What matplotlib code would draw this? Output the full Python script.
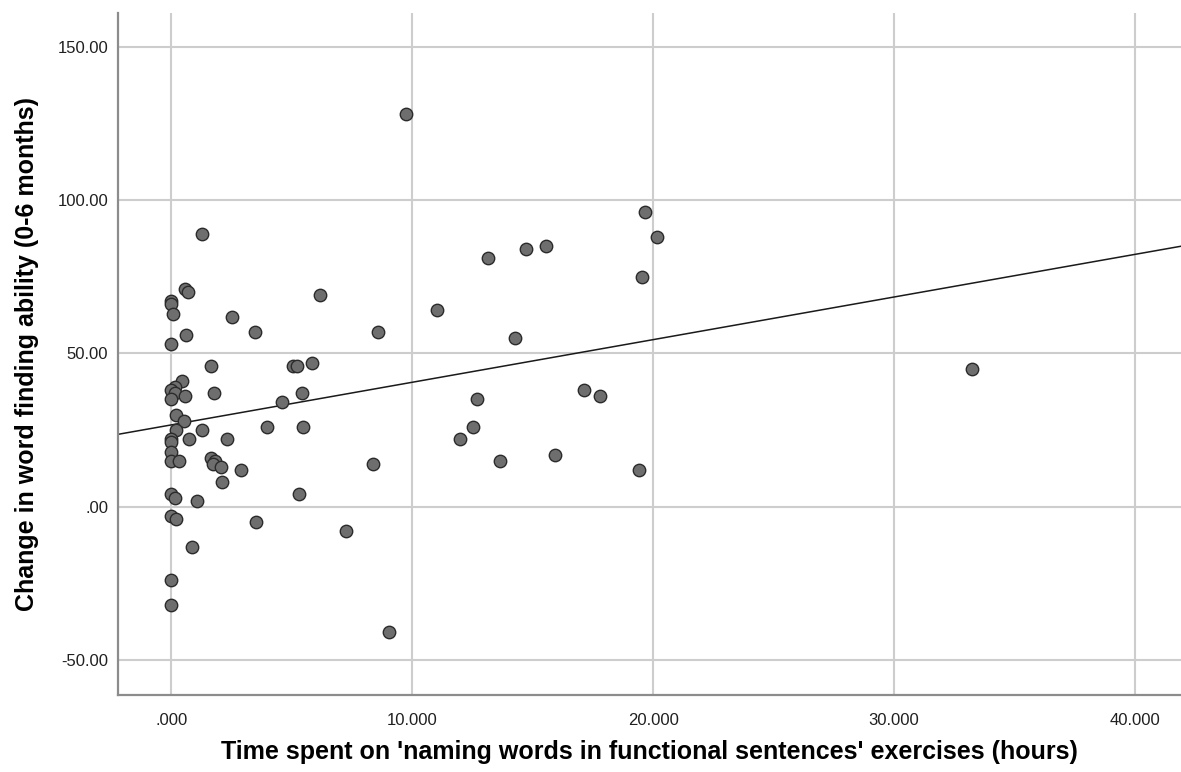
import numpy as np
import matplotlib
matplotlib.use("Agg")
import matplotlib.pyplot as plt

plt.rcParams['font.family'] = ['Liberation Sans', 'DejaVu Sans']

# Hours spent on the exercises and change in word-finding score (0-6 months)
hours = [9.74, 19.67, 20.17, 1.28, 15.54, 14.74, 13.15, 19.54, 0.55, 0.70,
         6.17, 0.00, 0.00, 11.01, 0.05, 2.50, 3.46, 8.58, 0.60, 14.28,
         0.00, 5.82, 1.63, 5.05, 5.22, 33.26, 0.45, 0.15, 0.00, 0.15,
         1.76, 5.43, 17.15, 17.81, 0.55, 0.00, 12.69, 4.60, 0.17, 0.52,
         0.19, 1.28, 3.98, 5.46, 12.51, 0.00, 0.00, 0.73, 2.30, 11.97,
         0.00, 0.00, 0.32, 1.63, 1.80, 1.74, 2.07, 2.87, 8.36, 13.63,
         15.94, 19.43, 2.11, 0.00, 0.13, 1.05, 5.30, 0.00, 0.20, 3.52,
         0.86, 7.25, 9.03, 0.00, 0.00]
change = [128, 96, 88, 89, 85, 84, 81, 75, 71, 70,
          69, 67, 66, 64, 63, 62, 57, 57, 56, 55,
          53, 47, 46, 46, 46, 45, 41, 39, 38, 37,
          37, 37, 38, 36, 36, 35, 35, 34, 30, 28,
          25, 25, 26, 26, 26, 22, 21, 22, 22, 22,
          18, 15, 15, 16, 15, 14, 13, 12, 14, 15,
          17, 12, 8, 4, 3, 2, 4, -3, -4, -5,
          -13, -8, -41, -24, -32]

x_ticks = [0, 10, 20, 30, 40]
x_tick_labels = ['.000', '10.000', '20.000', '30.000', '40.000']
y_ticks = [-50, 0, 50, 100, 150]
y_tick_labels = ['-50.00', '.00', '50.00', '100.00', '150.00']

x_label = "Time spent on 'naming words in functional sentences' exercises (hours)"
y_label = "Change in word finding ability (0-6 months)"

fig = plt.figure(figsize=(11.81, 7.72), dpi=100)
ax = fig.add_axes([118 / 1181, 1 - 695 / 772, (1181 - 118) / 1181, (695 - 13.3) / 772])

x_lo, x_hi = -2.22, 41.92
ax.set_xlim(x_lo, x_hi)
ax.set_ylim(-61.4, 160.9)

ax.grid(True, color='#cdcdcd', linewidth=1.5, zorder=0)
ax.set_axisbelow(True)

ax.scatter(hours, change, s=80, facecolor='#6e6e6e', edgecolor='#2b2b2b',
           linewidth=1.0, zorder=3)

# Least-squares fit line across the whole x range
slope, intercept = np.polyfit(hours, change, 1)
xs = np.array([x_lo, x_hi])
ax.plot(xs, intercept + slope * xs, color='#1a1a1a', linewidth=1.1, zorder=2)

ax.set_xticks(x_ticks)
ax.set_xticklabels(x_tick_labels)
ax.set_yticks(y_ticks)
ax.set_yticklabels(y_tick_labels)
ax.tick_params(axis='both', length=0, labelsize=12, labelcolor='#202020')
ax.tick_params(axis='x', pad=13)
ax.tick_params(axis='y', pad=7)

for side in ('top', 'right'):
    ax.spines[side].set_visible(False)
for side in ('left', 'bottom'):
    ax.spines[side].set_color('#8c8c8c')
    ax.spines[side].set_linewidth(1.6)

ax.set_xlabel(x_label, fontsize=18, fontweight='bold', va='center')
ax.set_ylabel(y_label, fontsize=18, fontweight='bold', va='center')
ax.xaxis.set_label_coords(0.5, (695 - 752) / 681.7)
ax.yaxis.set_label_coords((27 - 118) / 1063, 0.5)

fig.savefig('out.png', dpi=100, facecolor='white')
